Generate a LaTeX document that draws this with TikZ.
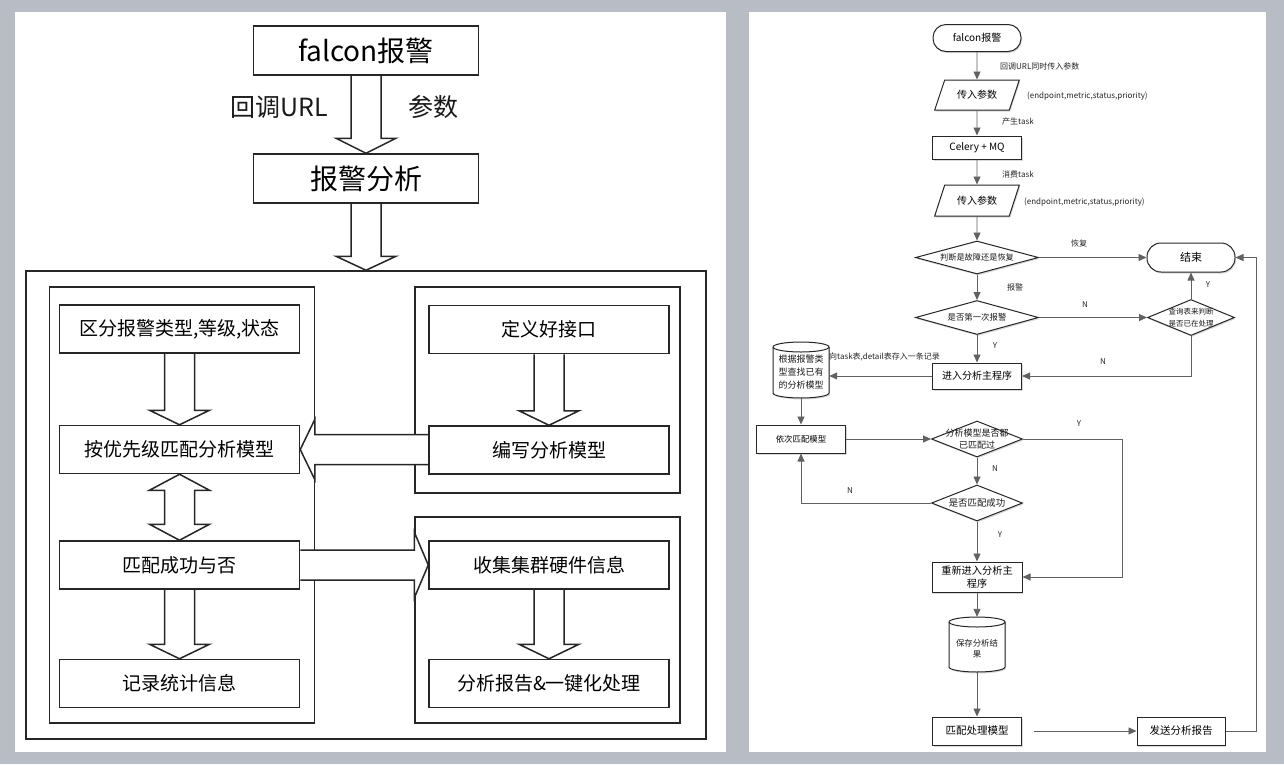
\documentclass[tikz,border=0pt]{standalone}
\usepackage{fontspec}
\setmainfont{Noto Sans CJK SC}
\usetikzlibrary{arrows.meta,calc,shapes.geometric,shapes.misc,shadows}
\pgfdeclarelayer{bg}
\pgfdeclarelayer{mid}
\pgfsetlayers{bg,mid,main}
\definecolor{bgc}{HTML}{B8BCC4}
% vertical hollow block arrow: start point, tip point, head length
\newcommand\vblk[3]{%
  \draw[blk] ($(#2 |- #1)+(-15,0)$) -- ($(#2)+(-15,-#3)$) -- ($(#2)+(-30,-#3)$) -- (#2)
    -- ($(#2)+(30,-#3)$) -- ($(#2)+(15,-#3)$) -- ($(#2 |- #1)+(15,0)$);}
% leftward hollow block arrow
\newcommand\lblk[3]{%
  \draw[blk] ($(#2 -| #1)+(0,-15)$) -- ($(#2)+(#3,-15)$) -- ($(#2)+(#3,-30)$) -- (#2)
    -- ($(#2)+(#3,30)$) -- ($(#2)+(#3,15)$) -- ($(#2 -| #1)+(0,15)$);}
% rightward hollow block arrow
\newcommand\rblk[3]{%
  \draw[blk] ($(#2 -| #1)+(0,-15)$) -- ($(#2)+(-#3,-15)$) -- ($(#2)+(-#3,-33)$) -- (#2)
    -- ($(#2)+(-#3,33)$) -- ($(#2)+(-#3,15)$) -- ($(#2 -| #1)+(0,15)$);}
% double hollow block arrow between top point and bottom point
\newcommand\dblk[3]{%
  \draw[blk] (#1) -- ($(#1)+(30,#3)$) -- ($(#1)+(15,#3)$) -- ($(#1 |- #2)+(15,-#3)$)
    -- ($(#1 |- #2)+(30,-#3)$) -- (#1 |- #2) -- ($(#1 |- #2)+(-30,-#3)$)
    -- ($(#1 |- #2)+(-15,-#3)$) -- ($(#1)+(-15,#3)$) -- ($(#1)+(-30,#3)$) -- cycle;}
% database cylinder outline around an existing node: name, half width, half height
\newcommand\cylout[3]{%
  \path[cyl] ($(#1.center)+(-#2,-#3+5)$) -- ($(#1.center)+(-#2,#3-5)$)
    arc[start angle=180, end angle=360, x radius=#2pt, y radius=5pt]
    -- ($(#1.center)+(#2,-#3+5)$)
    arc[start angle=0, end angle=180, x radius=#2pt, y radius=5pt] -- cycle;
  \draw[cylfront] ($(#1.center)+(-#2,-#3+5)$)
    arc[start angle=180, end angle=360, x radius=#2pt, y radius=5pt];}
\begin{document}
\begin{tikzpicture}[x=1pt,y=-1pt,
  lbox/.style={draw=black!85, line width=1.5pt, fill=white, minimum width=240, minimum height=48, inner sep=2pt, font=\fontsize{19}{23}\selectfont},
  lbig/.style={lbox, minimum width=225, minimum height=49, font=\fontsize{28}{32}\selectfont},
  frame/.style={draw=black!85, line width=1.5pt, inner sep=0pt},
  blk/.style={draw=black!85, line width=1.5pt, fill=white, line join=miter},
  llab/.style={font=\fontsize{25}{29}\selectfont, text=black!90},
  rshape/.style={draw=black!85, line width=1pt, fill=white, drop shadow={shadow xshift=1pt, shadow yshift=-1.5pt, opacity=0.3}, font=\fontsize{10}{13}\selectfont, inner sep=1pt, align=center},
  rbox/.style={rshape, rectangle, minimum width=89, minimum height=28},
  rterm/.style={rshape, rectangle, rounded corners=13, minimum width=88, minimum height=27},
  rpar/.style={rshape, trapezium, trapezium left angle=60, trapezium right angle=120, trapezium stretches=true, minimum width=85, minimum height=30},
  rdia/.style={rshape, diamond, inner sep=0pt},
  cyl/.style={draw=black!85, line width=1pt, fill=white, drop shadow={shadow xshift=1pt, shadow yshift=-1.5pt, opacity=0.3}},
  cylfront/.style={draw=black!85, line width=1pt},
  cylnode/.style={rectangle, inner sep=0pt, align=center, text=black!90},
  ctr/.style={align=center, text=black!90, inner sep=0pt},
  rl/.style={font=\fontsize{8}{10}\selectfont, text=black!85, inner sep=0pt},
  rline/.style={draw=black!62, line width=0.9pt},
  rarr/.style={rline, -{Triangle[length=8,width=7]}}
]
\useasboundingbox (0,0) rectangle (1284,764);
\begin{pgfonlayer}{bg}
  \fill[bgc] (0,0) rectangle (1284,764);
  \fill[white] (15,12) rectangle (726,752);
  \fill[white] (749,12) rectangle (1266,752);
  \node[frame, minimum width=680, minimum height=468] (outer) at (366,505) {};
  \node[frame, minimum width=265, minimum height=436] (cl) at (182,505) {};
  \node[frame, minimum width=265, minimum height=206] (crt) at (547.5,390) {};
  \node[frame, minimum width=265, minimum height=206] (crb) at (547.5,620) {};
\end{pgfonlayer}

% ---------------- left panel ----------------
\node[lbig] (fa) at (366,50.5) {falcon报警};
\node[lbig] (fb) at (366,178.5) {报警分析};
\node[llab] (lu) at (279,107) {回调URL};
\node[llab] (lp) at (433,107) {参数};

\node[lbox] (b1) at (179.5,329) {区分报警类型,等级,状态};
\node[lbox] (b2) at (179.5,449.5) {按优先级匹配分析模型};
\node[lbox] (b3) at (179.5,565) {匹配成功与否};
\node[lbox] (b4) at (179.5,683.5) {记录统计信息};
\node[lbox] (b5) at (549,329.5) {定义好接口};
\node[lbox] (b6) at (549,450) {编写分析模型};
\node[lbox] (b7) at (549,565) {收集集群硬件信息};
\node[lbox] (b8) at (549,683.5) {分析报告\&一键化处理};

\begin{pgfonlayer}{mid}
  \vblk{fa.south}{fb.north}{15}
  \vblk{fb.south}{outer.north}{14}
  \vblk{b1.south}{b2.north}{14.5}
  \vblk{b5.south}{b6.north}{14.5}
  \vblk{b3.south}{b4.north}{14.5}
  \vblk{b7.south}{b8.north}{14.5}
  \dblk{b2.south}{b3.north}{16}
  \lblk{b6.west}{b2.east}{14.5}
  \rblk{b3.east}{b7.west}{14}
\end{pgfonlayer}

% ---------------- right panel ----------------
\node[rterm] (rf) at (977,38) {falcon报警};
\node[rpar] (rp1) at (977,95) {传入参数};
\node[rbox, minimum height=23] (rc) at (977,147.5) {Celery + MQ};
\node[rpar, minimum height=31] (rp2) at (977,200.5) {传入参数};
\node[rdia, minimum width=123, minimum height=33,
  label={[ctr, name=d1t, font=\fontsize{8.2}{10}\selectfont]center:判断是故障还是恢复}] (d1) at (977,257.5) {};
\node[rterm, minimum height=29, rounded corners=14] (end) at (1191,257.5) {\fontsize{11}{13}\selectfont 结束};
\node[rdia, minimum width=123, minimum height=34,
  label={[ctr, name=d2t, font=\fontsize{8.4}{10}\selectfont]center:是否第一次报警}] (d2) at (977,317.5) {};
\node[rdia, minimum width=87, minimum height=36,
  label={[ctr, name=d3t, font=\fontsize{7.5}{11.5}\selectfont]center:{查询表来判断\\是否已在处理}}] (d3) at (1191,317.5) {};
\node[rbox, minimum height=26] (main) at (977,376) {进入分析主程序};

% cylinder 1
\node[cylnode, minimum width=56, minimum height=56] (cy1) at (801,370) {};
\cylout{cy1}{28}{28}
\node[ctr, font=\fontsize{9}{13}\selectfont] (c1t) at (801,372) {根据报警类\\型查找已有\\的分析模型};

\node[rbox, font=\fontsize{8.4}{10}\selectfont] (seq) at (801,439) {依次匹配模型};
\node[rdia, minimum width=91, minimum height=36,
  label={[ctr, name=d4t, font=\fontsize{9}{12}\selectfont]center:{分析模型是否都\\已匹配过}}] (d4) at (977,439) {};
\node[rdia, minimum width=91, minimum height=36,
  label={[ctr, name=d5t, font=\fontsize{9.4}{11}\selectfont]center:是否匹配成功}] (d5) at (977,503) {};
\node[rbox, minimum width=90, minimum height=30, font=\fontsize{10.2}{13}\selectfont] (re) at (977,577) {重新进入分析主\\程序};

% cylinder 2
\node[cylnode, minimum width=56, minimum height=55] (cy2) at (977,644.5) {};
\cylout{cy2}{28}{27.5}
\node[ctr, font=\fontsize{8.4}{11}\selectfont] (c2t) at (977,648.5) {保存分析结\\果};

\node[rbox, font=\fontsize{10.5}{13}\selectfont] (proc) at (977,731) {匹配处理模型};
\node[rbox, minimum width=88, font=\fontsize{10.5}{13}\selectfont] (send) at (1181,731) {发送分析报告};

\coordinate (c1) at (1122,439);
\coordinate (c2) at (1256,731);

\draw[rarr] (rf.south) -- (rp1.north);
\draw[rarr] (rp1.south) -- (rc.north);
\draw[rarr] (rc.south) -- (rp2.north);
\draw[rarr] (rp2.south) -- (d1.north);
\draw[rarr] (d1.east) -- (end.west);
\draw[rarr] (d1.south) -- (d2.north);
\draw[rarr] (d2.east) -- (d3.west);
\draw[rarr] (d3.north) -- (end.south);
\draw[rarr] (d3.south) |- (main.east);
\draw[rarr] (d2.south) -- (main.north);
\draw[rarr] (main.west) -- (main.west -| cy1.east);
\draw[rarr] ($(cy1.south)+(0,-1)$) -- (cy1.south |- seq.north);
\draw[rarr] (seq.east) -- (d4.west);
\draw[rarr] (d4.east) -- (c1) |- (re.east);
\draw[rarr] (d4.south) -- (d5.north);
\draw[rarr] (d5.west) -| (seq.south);
\draw[rarr] (d5.south) -- (re.north);
\draw[rarr] (re.south) -- (cy2.north);
\draw[rarr] ($(cy2.south)+(0,-1)$) -- (proc.north);
\draw[rarr, shorten <=12pt] (proc.east) -- (send.west);
\draw[rarr] (send.east) -- (c2) |- (end.east);

\node[rl, anchor=west] (l1) at (1000,66) {回调URL同时传入参数};
\node[rl, anchor=west] (l2) at (1027,96) {(endpoint,metric,status,priority)};
\node[rl, anchor=west] (l3) at (1002,121) {产生task};
\node[rl, anchor=west] (l4) at (1002,174) {消费task};
\node[rl, anchor=west] (l5) at (1024,202) {(endpoint,metric,status,priority)};
\node[rl] (l6) at (1079,243) {恢复};
\node[rl] (l7) at (1015,287) {报警};
\node[rl] (l8) at (1085,305) {N};
\node[rl] (l9) at (1208,285) {Y};
\node[rl] (l10) at (1103,362) {N};
\node[rl] (l11) at (995,346) {Y};
\node[rl, anchor=west] (l12) at (829,357) {向task表,detail表存入一条记录};
\node[rl] (l13) at (1079,424) {Y};
\node[rl] (l14) at (995,469) {N};
\node[rl] (l15) at (850,491) {N};
\node[rl] (l16) at (1000,535) {Y};
\end{tikzpicture}
\end{document}
